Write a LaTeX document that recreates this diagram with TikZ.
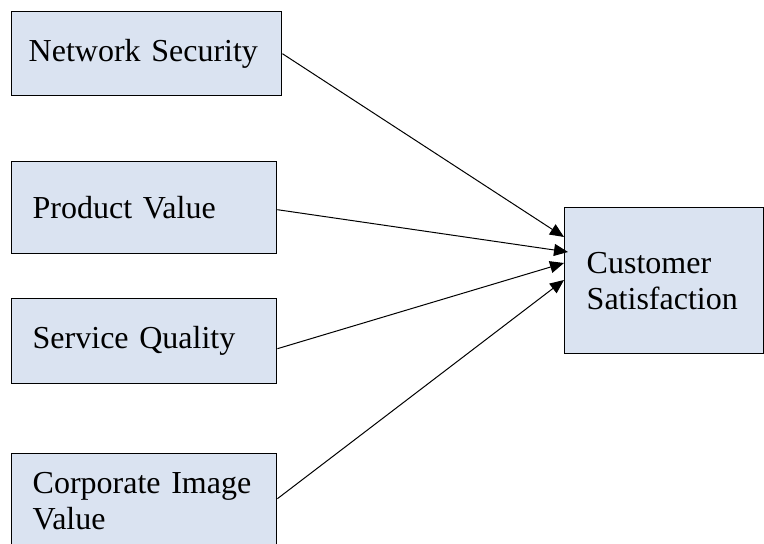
\documentclass[tikz,border=0pt]{standalone}
\usepackage{fontspec}
\setmainfont{Liberation Serif}
\usetikzlibrary{arrows.meta}
\definecolor{boxblue}{HTML}{DAE3F1}
\begin{document}
\begin{tikzpicture}[x=0.5pt,y=-0.5pt,
  every node/.style={font=\fontsize{16}{18}\selectfont},
  factor/.style={draw,line width=0.7pt,fill=boxblue,anchor=north west,align=left,inner xsep=10.5pt,inner ysep=0pt,text width=111.5pt},
  link/.style={-{Triangle[length=7pt,width=6pt]},line width=0.5pt}]
  \clip (0,0) rectangle (764,544);
  \node[factor,text width=118pt,inner xsep=8.5pt,minimum height=42pt] (ns) at (11,11) {Network Security};
  \node[factor,minimum height=46pt] (pv) at (11,161) {Product Value};
  \node[factor,minimum height=42.5pt] (sq) at (11,298) {Service Quality};
  \node[factor,minimum height=47pt] (ci) at (11,453) {Corporate Image\\Value};
  \node[factor,text width=77.5pt,inner xsep=11pt,minimum height=73pt] (cs) at (564,207) {Customer\\Satisfaction};
  \draw[link] (ns.east) -- ([yshift=-15pt]cs.north west);
  \draw[link] ([yshift=-1pt]pv.east) -- ([xshift=2pt,yshift=-22.5pt]cs.north west);
  \draw[link] ([yshift=-3.75pt]sq.east) -- ([yshift=-28pt]cs.north west);
  \draw[link] ([yshift=1pt]ci.east) -- ([yshift=-36.5pt]cs.north west);
\end{tikzpicture}
\end{document}
